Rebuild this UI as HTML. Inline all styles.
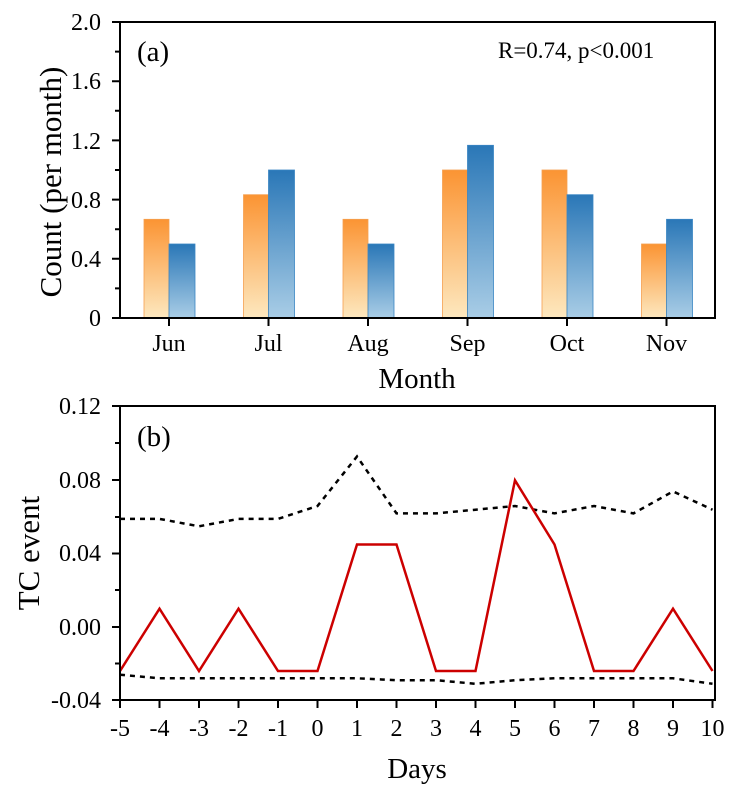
<!DOCTYPE html><html><head><style>body{margin:0;background:#fff}</style></head><body>
<svg width="755" height="804" xmlns="http://www.w3.org/2000/svg" font-family="Liberation Serif, serif">
<defs>
<linearGradient id="o" x1="0" y1="0" x2="0" y2="1"><stop offset="0" stop-color="#fb9433"/><stop offset="1" stop-color="#fde8bf"/></linearGradient>
<linearGradient id="b" x1="0" y1="0" x2="0" y2="1"><stop offset="0" stop-color="#2a77b7"/><stop offset="1" stop-color="#a9cde6"/></linearGradient>
</defs>
<g id="bars">
<rect x="144" y="219.3" width="25" height="98.7" fill="url(#o)" stroke="#f5a050" stroke-width="0.8"/><rect x="169" y="244" width="26" height="74" fill="url(#b)" stroke="#3a86c4" stroke-width="0.8"/>
<rect x="243.5" y="194.7" width="25" height="123.3" fill="url(#o)" stroke="#f5a050" stroke-width="0.8"/><rect x="268.5" y="170" width="26" height="148" fill="url(#b)" stroke="#3a86c4" stroke-width="0.8"/>
<rect x="343" y="219.3" width="25" height="98.7" fill="url(#o)" stroke="#f5a050" stroke-width="0.8"/><rect x="368" y="244" width="26" height="74" fill="url(#b)" stroke="#3a86c4" stroke-width="0.8"/>
<rect x="442.5" y="170" width="25" height="148" fill="url(#o)" stroke="#f5a050" stroke-width="0.8"/><rect x="467.5" y="145.3" width="26" height="172.7" fill="url(#b)" stroke="#3a86c4" stroke-width="0.8"/>
<rect x="542" y="170" width="25" height="148" fill="url(#o)" stroke="#f5a050" stroke-width="0.8"/><rect x="567" y="194.7" width="26" height="123.3" fill="url(#b)" stroke="#3a86c4" stroke-width="0.8"/>
<rect x="641.5" y="244" width="25" height="74" fill="url(#o)" stroke="#f5a050" stroke-width="0.8"/><rect x="666.5" y="219.3" width="26" height="98.7" fill="url(#b)" stroke="#3a86c4" stroke-width="0.8"/>
</g>
<rect x="120" y="22" width="595" height="296" fill="none" stroke="#000" stroke-width="2"/>
<g stroke="#000" stroke-width="2">
<path d="M120 318h-8M120 258.8h-8M120 199.6h-8M120 140.4h-8M120 81.2h-8M120 22h-8M120 288.4h-5M120 229.2h-5M120 170h-5M120 110.8h-5M120 51.6h-5"/>
<path d="M169 318v8M268.5 318v8M368 318v8M467.5 318v8M567 318v8M666.5 318v8"/>
</g>
<g font-size="24" text-anchor="end">
<text x="101" y="326">0</text><text x="101" y="267">0.4</text><text x="101" y="208">0.8</text><text x="101" y="149">1.2</text><text x="101" y="89">1.6</text><text x="101" y="30">2.0</text>
</g>
<g font-size="24" text-anchor="middle">
<text x="169" y="351">Jun</text><text x="268.5" y="351">Jul</text><text x="368" y="351">Aug</text><text x="467.5" y="351">Sep</text><text x="567" y="351">Oct</text><text x="666.5" y="351">Nov</text>
</g>
<text x="417" y="388" font-size="29" text-anchor="middle">Month</text>
<text transform="translate(61,182) rotate(-90)" font-size="31" text-anchor="middle">Count (per month)</text>
<text x="137" y="61" font-size="29">(a)</text>
<text x="498" y="58" font-size="23">R=0.74, p&lt;0.001</text>

<polyline fill="none" stroke="#000" stroke-width="2.5" stroke-dasharray="5,5" points="120,518.9 159.5,518.9 199,526.3 238.5,518.9 278,518.9 317.5,506 357,456.5 396.5,513.4 436,513.4 475.5,509.7 515,506 554.5,513.4 594,506 633.5,513.4 673,491.4 712.5,509.7"/>
<polyline fill="none" stroke="#000" stroke-width="2.5" stroke-dasharray="5,5" points="120,674.7 159.5,678.3 199,678.3 238.5,678.3 278,678.3 317.5,678.3 357,678.3 396.5,680.2 436,680.2 475.5,683.8 515,680.2 554.5,678.3 594,678.3 633.5,678.3 673,678.3 712.5,683.8"/>
<polyline fill="none" stroke="#c00" stroke-width="2.5" points="120,671 159.5,608.7 199,671 238.5,608.7 278,671 317.5,671 357,544.5 396.5,544.5 436,671 475.5,671 515,480.3 554.5,544.5 594,671 633.5,671 673,608.7 712.5,671"/>
<rect x="120" y="406" width="595" height="294" fill="none" stroke="#000" stroke-width="2"/>
<g stroke="#000" stroke-width="2">
<path d="M120 700h-8M120 627h-8M120 553.5h-8M120 480h-8M120 406h-8M120 663.5h-5M120 590h-5M120 517h-5M120 443h-5"/>
<path d="M120 700v8M159.5 700v8M199 700v8M238.5 700v8M278 700v8M317.5 700v8M357 700v8M396.5 700v8M436 700v8M475.5 700v8M515 700v8M554.5 700v8M594 700v8M633.5 700v8M673 700v8M712.5 700v8"/>
</g>
<g font-size="24" text-anchor="end">
<text x="101" y="708">-0.04</text><text x="101" y="635">0.00</text><text x="101" y="561">0.04</text><text x="101" y="488">0.08</text><text x="101" y="414">0.12</text>
</g>
<g font-size="24" text-anchor="middle">
<text x="120" y="736">-5</text><text x="159.5" y="736">-4</text><text x="199" y="736">-3</text><text x="238.5" y="736">-2</text><text x="278" y="736">-1</text><text x="317.5" y="736">0</text><text x="357" y="736">1</text><text x="396.5" y="736">2</text><text x="436" y="736">3</text><text x="475.5" y="736">4</text><text x="515" y="736">5</text><text x="554.5" y="736">6</text><text x="594" y="736">7</text><text x="633.5" y="736">8</text><text x="673" y="736">9</text><text x="712.5" y="736">10</text>
</g>
<text x="417" y="778" font-size="29" text-anchor="middle">Days</text>
<text transform="translate(39,553) rotate(-90)" font-size="31" text-anchor="middle">TC event</text>
<text x="137" y="446" font-size="29">(b)</text>
</svg>
</body></html>
